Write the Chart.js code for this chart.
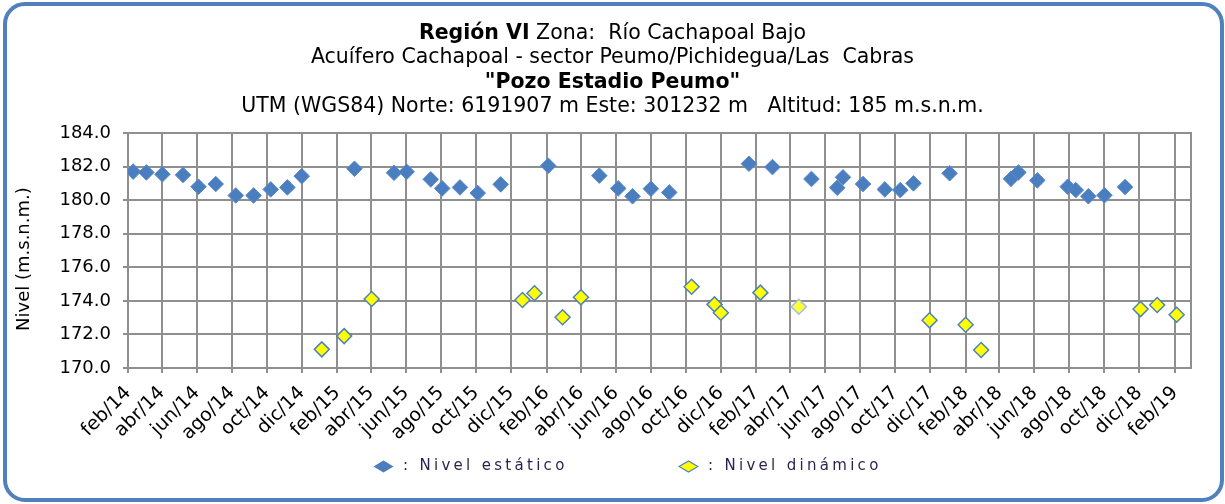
<!DOCTYPE html>
<html>
<head>
<meta charset="utf-8">
<title>Pozo Estadio Peumo</title>
<script src="https://cdn.jsdelivr.net/npm/chart.js@4.4.1/dist/chart.umd.min.js"></script>
<style>
  html, body { margin: 0; padding: 0; background: #fff; overflow: hidden; }
  #wrap { position: relative; width: 1225px; height: 504px; font-family: "DejaVu Sans", sans-serif; }
  #chart { position: absolute; left: 0; top: 0; }
  #frame { position: absolute; left: 3px; top: 2px; width: 1213px; height: 492px;
           border: 4px solid #4f81bd; border-radius: 22px; pointer-events: none; }
  #title { position: absolute; left: 0; top: 20px; width: 1225px; text-align: center;
           font-size: 20.5px; line-height: 24.4px; color: #000; }
  .leg { position: absolute; top: 455px; height: 20px; font-size: 15px; line-height: 20px;
         letter-spacing: 3.3px; color: #2e1f4f; white-space: nowrap; }
  .leg svg { position: absolute; left: 0; top: 5px; }
  .leg span { position: absolute; left: 30px; top: 0; }
</style>
</head>
<body>
<div id="wrap">
  <canvas id="chart" width="1225" height="504"></canvas>
  <div id="title">
    <div><b>Región VI</b> Zona:&nbsp; Río Cachapoal Bajo</div>
    <div>Acuífero Cachapoal - sector Peumo/Pichidegua/Las&nbsp; Cabras</div>
    <div><b>"Pozo Estadio Peumo"</b></div>
    <div>UTM (WGS84) Norte: 6191907 m Este: 301232 m &nbsp; Altitud: 185 m.s.n.m.</div>
  </div>
  <div class="leg" style="left:373px">
    <svg width="21" height="13"><polygon points="0.5,6.5 10.5,0.5 20.5,6.5 10.5,12.5" fill="#4a7ebf"/></svg>
    <span>: Nivel estático</span>
  </div>
  <div class="leg" style="left:678px">
    <svg width="21" height="13"><polygon points="1,6.5 10.5,1 20,6.5 10.5,12" fill="#ffff00" stroke="#4f81bd" stroke-width="1.2"/></svg>
    <span>: Nivel dinámico</span>
  </div>
  <div id="frame"></div>
</div>
<script>
// Nivel estático: fecha de medición y nivel (m.s.n.m.)
const staticDates = ['2014-02-10','2014-03-05','2014-04-02','2014-05-08','2014-06-04','2014-07-04',
  '2014-08-08','2014-09-08','2014-10-08','2014-11-06','2014-12-01','2015-03-03','2015-05-11',
  '2015-06-02','2015-07-14','2015-08-03','2015-09-03','2015-10-04','2015-11-13','2016-02-04',
  '2016-05-03','2016-06-05','2016-06-30','2016-08-01','2016-09-02','2017-01-19','2017-03-01',
  '2017-05-08','2017-06-22','2017-07-02','2017-08-06','2017-09-13','2017-10-10','2017-11-02',
  '2018-01-04','2018-04-21','2018-05-04','2018-06-06','2018-07-29','2018-08-12','2018-09-03',
  '2018-10-01','2018-11-06'];
const staticLevels = [181.70,181.65,181.54,181.50,180.80,180.96,180.28,180.28,180.64,180.76,181.43,
  181.87,181.63,181.69,181.24,180.70,180.76,180.42,180.94,182.05,181.46,180.70,180.23,180.68,180.46,
  182.17,181.97,181.26,180.74,181.36,180.96,180.64,180.60,181.00,181.60,181.27,181.65,181.18,180.80,
  180.60,180.23,180.29,180.78];

// Nivel dinámico: fecha de medición y nivel (m.s.n.m.)
const dynamicDates = ['2015-01-05','2015-02-13','2015-04-02','2015-12-21','2016-01-11','2016-02-29',
  '2016-04-01','2016-10-11','2016-11-20','2016-12-01','2017-02-08','2017-04-16','2017-11-30',
  '2018-02-01','2018-02-28','2018-12-03','2019-01-01','2019-02-04'];
const dynamicLevels = [171.11,171.90,174.11,174.05,174.45,173.02,174.21,174.84,173.79,173.29,174.49,
  173.65,172.84,172.58,171.07,173.51,173.75,173.17];

// Etiquetas del eje de tiempo (cada dos meses)
const xTickLabels = ['feb/14','abr/14','jun/14','ago/14','oct/14','dic/14','feb/15','abr/15','jun/15',
  'ago/15','oct/15','dic/15','feb/16','abr/16','jun/16','ago/16','oct/16','dic/16','feb/17','abr/17',
  'jun/17','ago/17','oct/17','dic/17','feb/18','abr/18','jun/18','ago/18','oct/18','dic/18','feb/19'];

// Eje vertical
const yMin = 170, yMax = 184, yStep = 2;
const xStart = '2014-02-01', xEnd = '2019-03-01';

const DAY = 86400000;
const monthAbbr = ['ene','feb','mar','abr','may','jun','jul','ago','sep','oct','nov','dic'];
const toDay = s => { const [y, m, d] = s.split('-').map(Number); return Date.UTC(y, m - 1, d) / DAY; };
const labelDay = l => { const [mm, yy] = l.split('/'); return Date.UTC(2000 + Number(yy), monthAbbr.indexOf(mm), 1) / DAY; };

const gridColor = '#8f8f8f';
const family = '"DejaVu Sans", sans-serif';

const plotFrame = {
  id: 'plotFrame',
  beforeDatasetsDraw(chart) {
    const { ctx, chartArea: a } = chart;
    ctx.save();
    ctx.strokeStyle = gridColor;
    ctx.lineWidth = 2;
    ctx.strokeRect(a.left, a.top, a.right - a.left, a.bottom - a.top);
    ctx.restore();
  }
};

new Chart(document.getElementById('chart'), {
  type: 'scatter',
  data: {
    datasets: [
      {
        label: 'Nivel estático',
        data: staticDates.map((d, i) => ({ x: toDay(d), y: staticLevels[i] })),
        pointStyle: 'rectRot',
        pointRadius: 7.8,
        backgroundColor: '#4a7ebf',
        borderColor: '#5a8bcb',
        borderWidth: 1
      },
      {
        label: 'Nivel dinámico',
        data: dynamicDates.map((d, i) => ({ x: toDay(d), y: dynamicLevels[i] })),
        pointStyle: 'rectRot',
        pointRadius: 7.5,
        backgroundColor: dynamicDates.map(d => d === '2017-04-16' ? '#ffff3a' : '#ffff00'),
        borderColor: dynamicDates.map(d => d === '2017-04-16' ? '#9dbde6' : '#4f81bd'),
        borderWidth: 1.5
      }
    ]
  },
  options: {
    responsive: false,
    animation: false,
    events: [],
    layout: { padding: { top: 133, right: 34, left: 0, bottom: 0 } },
    plugins: { legend: { display: false }, tooltip: { enabled: false }, title: { display: false } },
    scales: {
      x: {
        type: 'linear',
        min: toDay(xStart),
        max: toDay(xEnd),
        afterBuildTicks: s => { s.ticks = xTickLabels.map(l => ({ value: labelDay(l) })); },
        afterFit: s => { s.height = 136; },
        ticks: {
          autoSkip: false, minRotation: 45, maxRotation: 45, padding: 9,
          font: { family, size: 19 }, color: '#000',
          callback: (v, i) => xTickLabels[i]
        },
        grid: { color: gridColor, lineWidth: 2, tickLength: 5 },
        border: { color: gridColor, width: 2 }
      },
      y: {
        min: yMin, max: yMax,
        afterFit: s => { s.width = 128; },
        ticks: { stepSize: yStep, padding: 12, font: { family, size: 18 }, color: '#000', callback: v => v.toFixed(1) },
        grid: { color: gridColor, lineWidth: 2, tickLength: 5 },
        border: { color: gridColor, width: 2 },
        title: { display: true, text: 'Nivel (m.s.n.m.)   ', font: { family, size: 18 }, color: '#000', padding: { top: 14, bottom: 0 } }
      }
    }
  },
  plugins: [plotFrame]
});
</script>
</body>
</html>
